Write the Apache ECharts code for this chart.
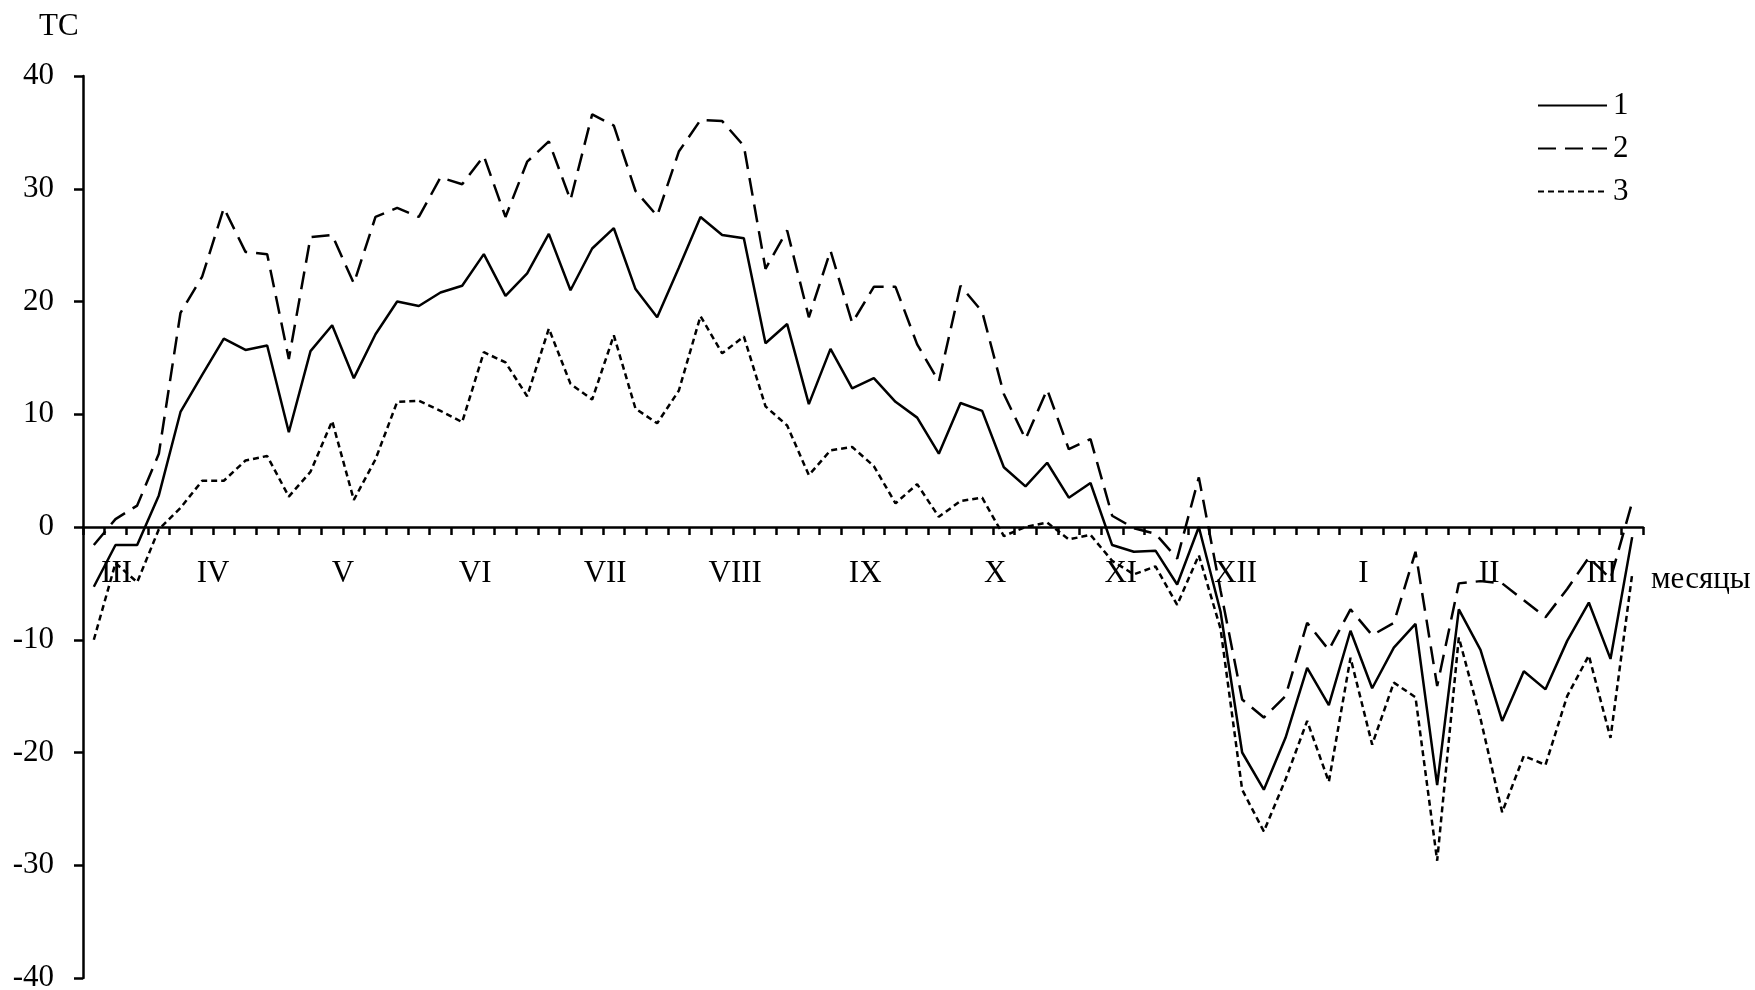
<!DOCTYPE html>
<html>
<head>
<meta charset="utf-8">
<script src="https://cdn.jsdelivr.net/npm/echarts@6/dist/echarts.min.js"></script>
<style>
  html, body { margin: 0; padding: 0; background: #fff; }
  #chart { width: 1755px; height: 990px; }
</style>
</head>
<body>
<div id="chart"></div>
<script>
// 72 five-day periods, March to March
const pentads = Array.from({ length: 72 }, (_, i) => String(i + 1));

// Series 1 (solid)
const series1 = [
  -5.3, -1.6, -1.6, 2.8, 10.2, 13.5, 16.7, 15.7, 16.1, 8.4,
  15.6, 17.9, 13.2, 17.1, 20.0, 19.6, 20.8, 21.4, 24.2, 20.5,
  22.5, 26.0, 21.0, 24.7, 26.5, 21.1, 18.6, 23.0, 27.5, 25.9,
  25.6, 16.3, 18.0, 10.9, 15.8, 12.3, 13.2, 11.1, 9.7, 6.5,
  11.0, 10.3, 5.3, 3.6, 5.7, 2.6, 3.9, -1.6, -2.2, -2.1,
  -5.1, 0.0, -7.5, -20.0, -23.3, -18.7, -12.5, -15.8, -9.2, -14.3,
  -10.7, -8.6, -22.9, -7.3, -10.9, -17.2, -12.8, -14.4, -10.1, -6.7,
  -11.7, -0.9
];

// Series 2 (long dashes)
const series2 = [
  -1.6, 0.7, 1.9, 6.5, 19.0, 22.2, 28.3, 24.4, 24.2, 14.9,
  25.7, 25.9, 21.6, 27.5, 28.3, 27.5, 31.0, 30.4, 32.9, 27.5,
  32.4, 34.2, 29.0, 36.6, 35.6, 29.8, 27.6, 33.3, 36.1, 36.0,
  33.8, 22.9, 26.3, 18.6, 24.5, 18.1, 21.3, 21.3, 16.2, 12.9,
  21.4, 19.1, 11.8, 7.8, 12.2, 6.9, 7.8, 1.0, -0.1, -0.6,
  -2.8, 4.4, -5.6, -15.3, -16.9, -15.0, -8.5, -10.9, -7.3, -9.6,
  -8.5, -2.2, -14.1, -5.0, -4.8, -5.0, -6.5, -8.0, -5.5, -2.7,
  -4.6, 2.2
];

// Series 3 (short dashes)
const series3 = [
  -10.0, -3.2, -4.9, -0.2, 1.7, 4.1, 4.1, 5.9, 6.3, 2.7,
  4.9, 9.4, 2.4, 6.0, 11.1, 11.2, 10.3, 9.3, 15.5, 14.6,
  11.6, 17.6, 12.7, 11.3, 17.0, 10.5, 9.2, 12.1, 18.7, 15.4,
  16.9, 10.7, 9.0, 4.6, 6.8, 7.1, 5.4, 2.1, 3.8, 0.9,
  2.3, 2.6, -0.8, 0.0, 0.4, -1.1, -0.7, -3.0, -4.2, -3.5,
  -6.9, -2.5, -9.0, -23.3, -27.0, -22.4, -17.2, -22.6, -11.6, -19.3,
  -13.8, -15.1, -29.6, -9.8, -17.0, -25.3, -20.3, -21.1, -15.0, -11.4,
  -18.7, -4.2
];

// Month names and where each sits along the pentad index
const monthNames = ['III', 'IV', 'V', 'VI', 'VII', 'VIII', 'IX', 'X', 'XI', 'XII', 'I', 'II', 'III'];
const monthCenters = [1.05, 5.5, 11.5, 17.6, 23.6, 29.6, 35.6, 41.6, 47.4, 52.7, 58.6, 64.4, 69.6];

const seriesNames = ['1', '2', '3'];
const yTicks = { min: -40, max: 40, step: 10 };

const FONT = 'Liberation Serif';
const INK = '#000';
const textBase = { fontFamily: FONT, fontSize: 31, color: INK, fontWeight: 'normal' };

const chart = echarts.init(document.getElementById('chart'), null, { renderer: 'canvas' });

chart.setOption({
  animation: false,
  backgroundColor: '#fff',
  title: {
    text: 'TC',
    left: 39,
    top: 11,
    padding: 0,
    textStyle: textBase
  },
  legend: {
    orient: 'vertical',
    left: 1537,
    top: 90,
    itemWidth: 69,
    itemHeight: 14,
    itemGap: 12,
    padding: 0,
    data: seriesNames,
    itemStyle: { opacity: 0 },
    textStyle: Object.assign({}, textBase, { padding: [0, 0, 0, 1] })
  },
  grid: {
    left: 83,
    right: 112,
    top: 76,
    bottom: 12,
    containLabel: false,
    outerBoundsMode: 'none'
  },
  xAxis: {
    type: 'category',
    data: pentads,
    boundaryGap: true,
    position: 'bottom',
    axisLine: { show: true, onZero: true, lineStyle: { color: INK, width: 2.5 } },
    axisTick: { show: true, length: 8, lineStyle: { color: INK, width: 2.5 } },
    axisLabel: { show: false },
    splitLine: { show: false },
    name: 'месяцы',
    nameLocation: 'end',
    nameGap: 8,
    nameTextStyle: Object.assign({}, textBase, { verticalAlign: 'top', align: 'left', padding: [37, 0, 0, 0] })
  },
  yAxis: {
    type: 'value',
    min: yTicks.min,
    max: yTicks.max,
    interval: yTicks.step,
    axisLine: { show: true, lineStyle: { color: INK, width: 2.5 } },
    axisTick: { show: true, length: 9, lineStyle: { color: INK, width: 2.5 } },
    axisLabel: Object.assign({}, textBase, { margin: 29 }),
    splitLine: { show: false }
  },
  series: [
    {
      name: seriesNames[0],
      type: 'line',
      data: series1,
      symbol: 'none',
      lineStyle: { color: INK, width: 2.5, type: 'solid' },
      itemStyle: { color: INK }
    },
    {
      name: seriesNames[1],
      type: 'line',
      data: series2,
      symbol: 'none',
      lineStyle: { color: INK, width: 2.5, type: [18, 9] },
      itemStyle: { color: INK }
    },
    {
      name: seriesNames[2],
      type: 'line',
      data: series3,
      symbol: 'none',
      lineStyle: { color: INK, width: 2.5, type: [6, 4] },
      itemStyle: { color: INK }
    }
  ]
});

// Pixel position of a fractional pentad index on the zero line,
// interpolated between the two neighbouring categories
function pentadToPixel(pos) {
  const i0 = Math.floor(pos);
  const i1 = Math.min(i0 + 1, pentads.length - 1);
  const a = chart.convertToPixel({ xAxisIndex: 0, yAxisIndex: 0 }, [i0, 0]);
  const b = chart.convertToPixel({ xAxisIndex: 0, yAxisIndex: 0 }, [i1, 0]);
  const t = pos - i0;
  return [a[0] + (b[0] - a[0]) * t, a[1]];
}

// Month names under the zero line
const monthLabelGap = 31;
chart.setOption({
  graphic: monthNames.map((name, k) => {
    const p = pentadToPixel(monthCenters[k]);
    return {
      type: 'text',
      x: p[0],
      y: p[1] + monthLabelGap,
      silent: true,
      style: {
        text: name,
        font: '31px "' + FONT + '"',
        fill: INK,
        align: 'center',
        verticalAlign: 'top'
      }
    };
  })
});
</script>
</body>
</html>
